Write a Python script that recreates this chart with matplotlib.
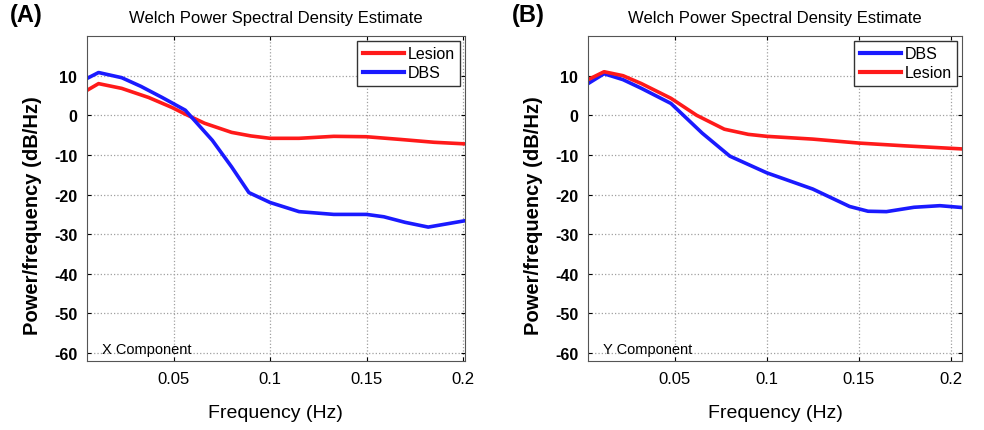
import matplotlib
matplotlib.use("Agg")
import matplotlib.pyplot as plt
import numpy as np

plt.rcParams['font.family'] = ['Liberation Sans', 'DejaVu Sans']

# Panel A (X component)
freq_a_lesion = [0.005, 0.011, 0.023, 0.037, 0.049, 0.056, 0.066, 0.08, 0.09, 0.1, 0.115, 0.133, 0.15, 0.168, 0.185, 0.201]
lesion_a = [6.3, 8.0, 6.8, 4.5, 2.0, 0.3, -2.0, -4.3, -5.2, -5.8, -5.8, -5.3, -5.4, -6.1, -6.8, -7.2]
freq_a_dbs = [0.005, 0.011, 0.023, 0.033, 0.044, 0.056, 0.07, 0.08, 0.089, 0.1, 0.115, 0.133, 0.15, 0.159, 0.17, 0.182, 0.201]
dbs_a = [9.3, 10.8, 9.5, 7.3, 4.5, 1.3, -6.3, -13.0, -19.5, -22.0, -24.3, -25.0, -25.0, -25.6, -27.0, -28.2, -26.6]

# Panel B (Y component)
freq_b_lesion = [0.003, 0.0117, 0.022, 0.032, 0.048, 0.062, 0.077, 0.09, 0.1, 0.125, 0.15, 0.175, 0.207]
lesion_b = [9.0, 11.0, 10.0, 8.0, 4.3, 0.0, -3.5, -4.8, -5.3, -6.0, -7.0, -7.7, -8.5]
freq_b_dbs = [0.003, 0.0117, 0.022, 0.032, 0.048, 0.065, 0.08, 0.1, 0.125, 0.145, 0.155, 0.165, 0.18, 0.194, 0.207]
dbs_b = [8.0, 10.5, 9.0, 6.8, 3.0, -4.5, -10.3, -14.5, -18.6, -23.0, -24.2, -24.3, -23.2, -22.8, -23.3]

xticks = [0.05, 0.1, 0.15, 0.2]
xtick_labels = ['0.05', '0.1', '0.15', '0.2']
yticks = [10, 0, -10, -20, -30, -40, -50, -60]

fig = plt.figure(figsize=(9.84, 4.31), dpi=100)
axA = fig.add_axes([0.0884, 0.160, 0.384, 0.754])
axB = fig.add_axes([0.5976, 0.160, 0.380, 0.754])

def style(ax, xlim, comp, panel):
    ax.set_xlim(*xlim)
    ax.set_ylim(-62, 20)
    ax.set_xticks(xticks)
    ax.set_xticklabels(xtick_labels, fontsize=12)
    ax.set_yticks(yticks)
    ax.set_yticklabels([str(t) for t in yticks], fontsize=11.5, fontweight='bold')
    ax.tick_params(direction='in', length=3, top=True, right=True, pad=7)
    ax.grid(True, linestyle=':', color='#a0a0a0', linewidth=0.9)
    for s in ax.spines.values():
        s.set_color('#555555')
    ax.set_title('Welch Power Spectral Density Estimate', fontsize=12, pad=10)
    ax.set_xlabel('Frequency (Hz)', fontsize=14, labelpad=13)
    ax.set_ylabel('Power/frequency (dB/Hz)', fontsize=14.5, fontweight='bold')
    ax.yaxis.set_label_coords(-0.12, 0.45)
    ax.text(0.04, 0.025, comp, transform=ax.transAxes, fontsize=10.5)
    ax.text(-0.205, 1.045, panel, transform=ax.transAxes, fontsize=17, fontweight='bold')
    leg = ax.legend(loc='upper right', fontsize=11.5, fancybox=False, framealpha=1,
                    edgecolor='#333333', handlelength=2.6, handletextpad=0.2,
                    borderaxespad=0.3, labelspacing=0.25, borderpad=0.35)
    leg.get_frame().set_linewidth(1.0)
    for line in leg.get_lines():
        line.set_linewidth(3)

axA.plot(freq_a_lesion, lesion_a, color='#ff1a1a', lw=2.6, label='Lesion')
axA.plot(freq_a_dbs, dbs_a, color='#1a1aff', lw=2.6, label='DBS')
style(axA, (0.005, 0.201), 'X Component', '(A)')

axB.plot(freq_b_dbs, dbs_b, color='#1a1aff', lw=2.6, label='DBS')
axB.plot(freq_b_lesion, lesion_b, color='#ff1a1a', lw=2.6, label='Lesion')
style(axB, (0.003, 0.206), 'Y Component', '(B)')

fig.savefig('out.png', dpi=100)
